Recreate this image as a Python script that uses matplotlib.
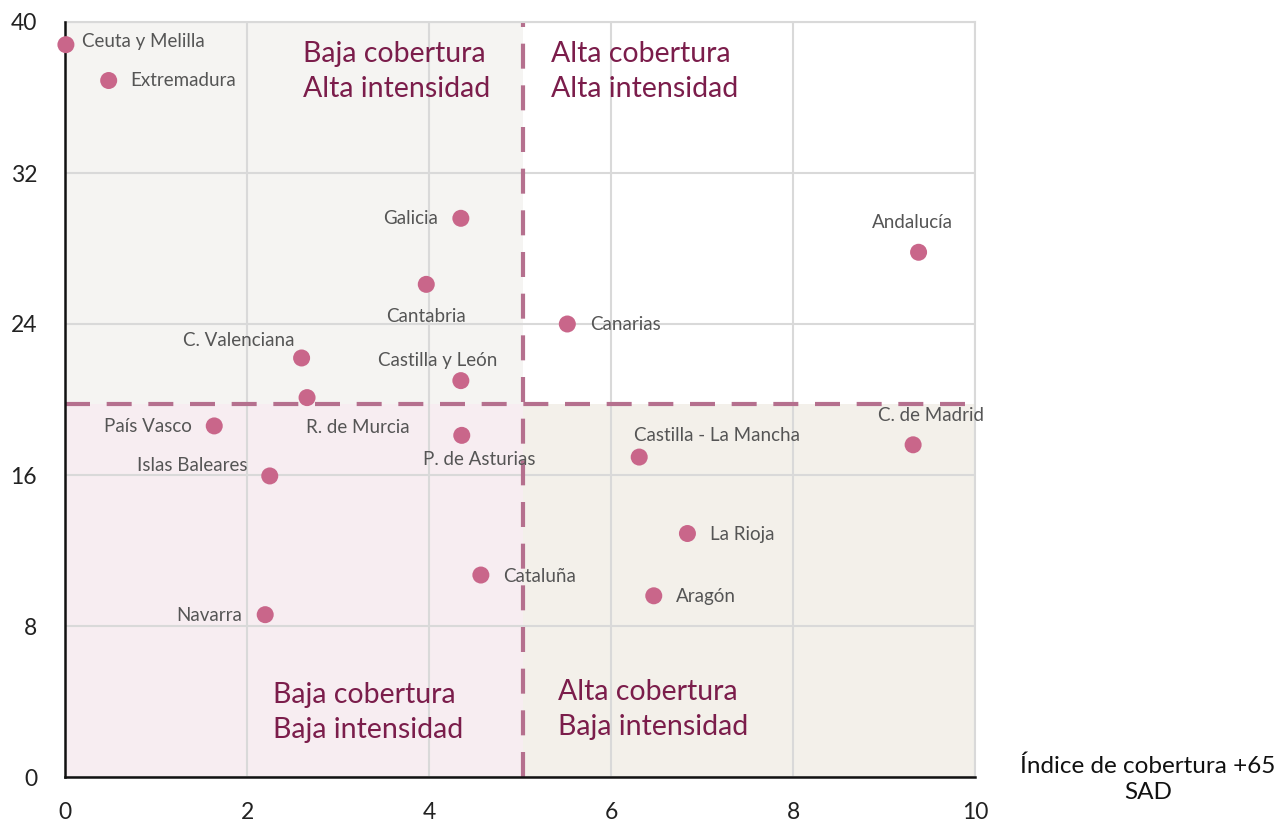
import matplotlib
matplotlib.use("Agg")
import matplotlib.pyplot as plt
import numpy as np

plt.rcParams['font.family'] = ['Lato', 'DejaVu Sans']

#----data
regiones = ["Ceuta y Melilla", "Extremadura", "Galicia", "Cantabria", "Andalucía",
            "Canarias", "C. Valenciana", "Castilla y León", "R. de Murcia", "País Vasco",
            "P. de Asturias", "C. de Madrid", "Castilla - La Mancha", "Islas Baleares",
            "La Rioja", "Cataluña", "Aragón", "Navarra"]
cobertura = [0.01, 0.48, 4.35, 3.97, 9.38, 5.52, 2.60, 4.35, 2.66, 1.64,
             4.36, 9.32, 6.31, 2.25, 6.84, 4.57, 6.47, 2.20]
intensidad = [38.8, 36.9, 29.6, 26.1, 27.8, 24.0, 22.2, 21.0, 20.1, 18.6,
              18.1, 17.6, 16.95, 15.95, 12.9, 10.7, 9.6, 8.6]
corte_x = 5.03
corte_y = 19.76

# label offsets in pixels (dx, dy, ha)
offsets = {
    "Ceuta y Melilla": (16, 3, "left"),
    "Extremadura": (22, 0, "left"),
    "Galicia": (-23, 0, "right"),
    "Cantabria": (0, -32, "center"),
    "Andalucía": (-6, 30, "center"),
    "Canarias": (23, -1, "left"),
    "C. Valenciana": (-63, 17, "center"),
    "Castilla y León": (-23, 20, "center"),
    "R. de Murcia": (51, -30, "center"),
    "País Vasco": (-22, -1, "right"),
    "P. de Asturias": (17, -24, "center"),
    "C. de Madrid": (18, 29, "center"),
    "Castilla - La Mancha": (78, 22, "center"),
    "Islas Baleares": (-22, 10, "right"),
    "La Rioja": (23, -1, "left"),
    "Cataluña": (22, -1, "left"),
    "Aragón": (22, -1, "left"),
    "Navarra": (-23, -1, "right"),
}

fig = plt.figure(figsize=(12.76, 8.22), dpi=100)
ax = fig.add_axes([65/1276, 45/822, 910/1276, 755/822])
ax.set_xlim(0, 10)
ax.set_ylim(0, 40)

#----quadrant backgrounds
ax.axvspan(0, corte_x, ymin=corte_y/40, ymax=1, color="#f5f4f2", zorder=0, lw=0)
ax.axvspan(0, corte_x, ymin=0, ymax=corte_y/40, color="#f7edf1", zorder=0, lw=0)
ax.axvspan(corte_x, 10, ymin=0, ymax=corte_y/40, color="#f3f0ea", zorder=0, lw=0)

#----grid
ax.set_xticks(np.arange(0, 11, 2))
ax.set_yticks(np.arange(0, 41, 8))
ax.grid(True, color="#d9d9d9", lw=1.5, zorder=1)
ax.set_axisbelow(True)

#----dashed cut lines
ax.axvline(corte_x, color="#b5708e", lw=3, ls=(0, (6, 4)), zorder=2)
ax.axhline(corte_y, color="#b5708e", lw=3, ls=(0, (6, 4)), zorder=2)

#----points
ax.scatter(cobertura, intensidad, s=150, color="#c9668a", zorder=4, clip_on=False,
           edgecolors="none")
for name, x, y in zip(regiones, cobertura, intensidad):
    dx, dy, ha = offsets[name]
    ax.annotate(name, (x, y), xytext=(dx, dy), textcoords="offset pixels",
                ha=ha, va="center", fontsize=13.5, color="#555555", zorder=5)

#----quadrant titles
qcol = "#7b1d4b"
qkw = dict(fontsize=20.5, color=qcol, va="top", linespacing=1.42)
ax.text(2.62, 39.0, "Baja cobertura\nAlta intensidad", **qkw)
ax.text(5.34, 39.0, "Alta cobertura\nAlta intensidad", **qkw)
ax.text(2.29, 5.03, "Baja cobertura\nBaja intensidad", **qkw)
ax.text(5.42, 5.19, "Alta cobertura\nBaja intensidad", **qkw)

#----spines / ticks
for s in ["top", "right"]:
    ax.spines[s].set_color("#d9d9d9")
    ax.spines[s].set_linewidth(1.5)
for s in ["left", "bottom"]:
    ax.spines[s].set_color("#111111")
    ax.spines[s].set_linewidth(1.8)
    ax.spines[s].set_zorder(3)
ax.tick_params(axis="both", length=0, labelsize=16.5, colors="#222222")
ax.tick_params(axis="x", pad=18)
ax.tick_params(axis="y", pad=20)

fig.text(1148/1276, 1 - 779/822, "Índice de cobertura +65\nSAD", ha="center",
         va="center", fontsize=17.5, color="#111111", linespacing=1.3)

fig.savefig("out.png", dpi=100)
